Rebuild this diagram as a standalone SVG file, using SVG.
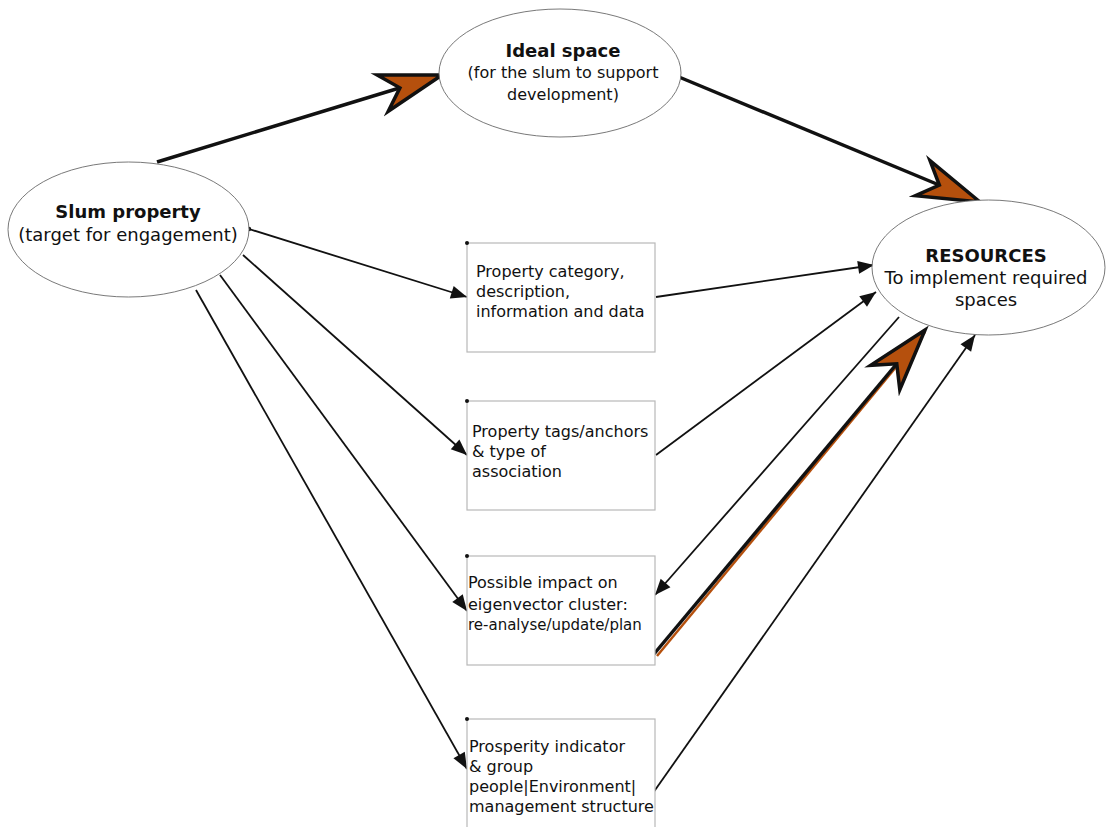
<svg xmlns="http://www.w3.org/2000/svg" width="1107" height="827" viewBox="0 0 1107 827">
  <style>
    .ell { fill: #ffffff; stroke: #6a6a6a; stroke-width: 0.9; }
    .box { fill: #ffffff; stroke: #b8b8b8; stroke-width: 1.2; }
    .dot { fill: #111111; }
    .t { font-family: "DejaVu Sans", Verdana, sans-serif; fill: #111111; }
    .head { font-size: 18px; font-weight: bold; text-anchor: middle; }
    .sub { font-size: 18px; text-anchor: middle; }
    .sub16 { font-size: 16px; text-anchor: middle; }
    .bt { font-size: 16px; }
    .bt15 { font-size: 15px; }
    .thin { stroke: #111111; stroke-width: 1.8; fill: none; }
    .thick { stroke: #111111; stroke-width: 3.5; fill: none; }
  </style>
  <defs>
    <marker id="tri" viewBox="-17 -8 18 16" refX="0" refY="0" markerWidth="18" markerHeight="16" markerUnits="userSpaceOnUse" orient="auto">
      <path d="M0,0 L-16,-6.5 L-16,6.5 Z" fill="#111111"/>
    </marker>
    <marker id="dart" viewBox="-68 -26 74 52" refX="0" refY="0" markerWidth="74" markerHeight="52" markerUnits="userSpaceOnUse" orient="auto">
      <path d="M0,0 L-62,-19 L-44,0 L-62,19 Z" fill="#b5500d" stroke="#111111" stroke-width="3.5" stroke-linejoin="miter"/>
    </marker>
  </defs>

  <rect width="1107" height="827" fill="#ffffff"/>

  <!-- connectors -->
  <g id="connectors">
    <line class="thick" x1="157" y1="162" x2="442" y2="75" marker-end="url(#dart)"/>
    <line class="thick" x1="679" y1="77" x2="980" y2="202" marker-end="url(#dart)"/>
    <line class="thin" x1="249" y1="229" x2="467" y2="297" marker-end="url(#tri)"/>
    <line class="thin" x1="243" y1="255" x2="467" y2="455" marker-end="url(#tri)"/>
    <line class="thin" x1="220" y1="275" x2="467" y2="611" marker-end="url(#tri)"/>
    <line class="thin" x1="196" y1="290" x2="467" y2="769" marker-end="url(#tri)"/>
    <line class="thin" x1="656" y1="297" x2="874" y2="265" marker-end="url(#tri)"/>
    <line class="thin" x1="656" y1="455" x2="876" y2="292" marker-end="url(#tri)"/>
    <line class="thin" x1="899" y1="317" x2="655" y2="595" marker-end="url(#tri)"/>
    <line stroke="#b5500d" stroke-width="2.5" x1="657" y1="656" x2="925" y2="332"/>
    <line class="thick" stroke-width="3" x1="654" y1="654" x2="925" y2="330" marker-end="url(#dart)"/>
    <line class="thin" x1="653" y1="793" x2="975" y2="335" marker-end="url(#tri)"/>
    <circle class="dot" cx="249" cy="229" r="2.2"/>
  </g>

  <g id="ideal-space">
    <ellipse class="ell" cx="560" cy="73" rx="121" ry="64"/>
    <text class="t head" x="563" y="57">Ideal space</text>
    <text class="t sub16" x="563" y="78">(for the slum to support</text>
    <text class="t sub16" x="563" y="100">development)</text>
  </g>

  <g id="slum-property">
    <ellipse class="ell" cx="128.5" cy="229.5" rx="120.5" ry="67.5"/>
    <text class="t head" x="128" y="218">Slum property</text>
    <text class="t sub" x="128" y="241">(target for engagement)</text>
  </g>

  <g id="resources">
    <ellipse class="ell" cx="988.5" cy="267.5" rx="116.5" ry="67.5"/>
    <text class="t head" x="986" y="262">RESOURCES</text>
    <text class="t sub" x="986" y="284">To implement required</text>
    <text class="t sub" x="986" y="306">spaces</text>
  </g>

  <g id="property-category">
    <rect class="box" x="467" y="243" width="188" height="109"/>
    <circle class="dot" cx="467" cy="243" r="2"/>
    <text class="t bt" x="476" y="277">Property category,</text>
    <text class="t bt" x="476" y="297">description,</text>
    <text class="t bt" x="476" y="317">information and data</text>
  </g>

  <g id="property-tags">
    <rect class="box" x="467" y="401" width="188" height="109"/>
    <circle class="dot" cx="467" cy="401" r="2"/>
    <text class="t bt" x="472" y="437">Property tags/anchors</text>
    <text class="t bt" x="472" y="457">&amp; type of</text>
    <text class="t bt" x="472" y="477">association</text>
  </g>

  <g id="eigenvector-impact">
    <rect class="box" x="467" y="556" width="188" height="109"/>
    <circle class="dot" cx="467" cy="556" r="2"/>
    <text class="t bt" x="468" y="588">Possible impact on</text>
    <text class="t bt" x="468" y="610">eigenvector cluster:</text>
    <text class="t bt15" x="468" y="630">re-analyse/update/plan</text>
  </g>

  <g id="prosperity-indicator">
    <rect class="box" x="467" y="719" width="188" height="120"/>
    <circle class="dot" cx="467" cy="719" r="2"/>
    <text class="t bt" x="469" y="752">Prosperity indicator</text>
    <text class="t bt" x="469" y="772">&amp; group</text>
    <text class="t bt" x="469" y="792">people|Environment|</text>
    <text class="t bt" x="469" y="812">management structure</text>
  </g>
</svg>
